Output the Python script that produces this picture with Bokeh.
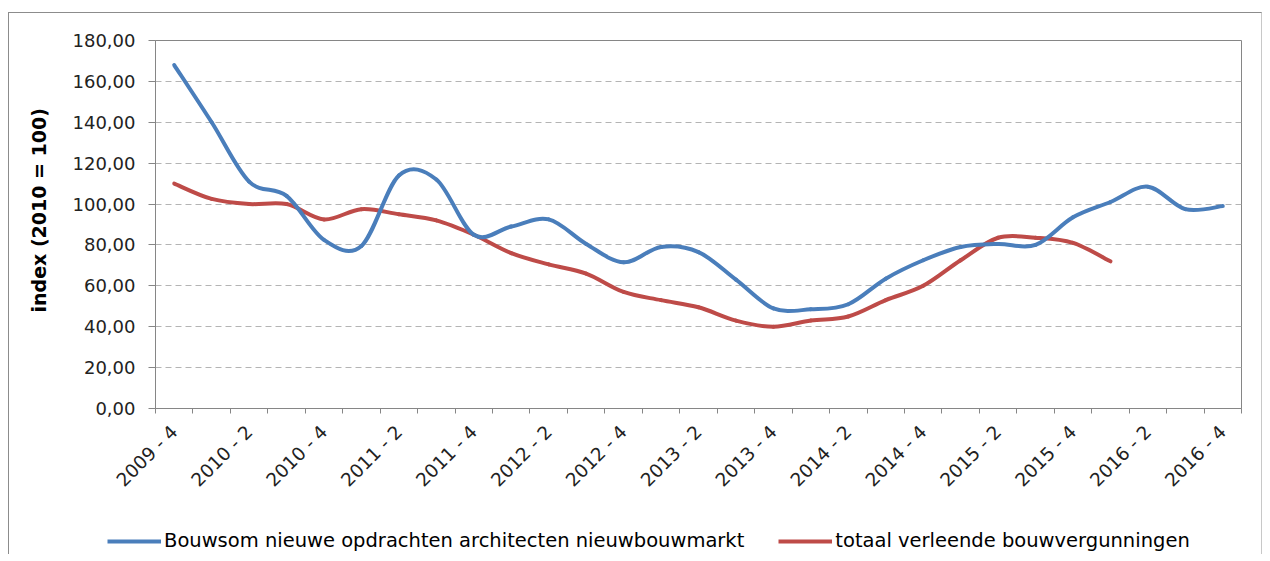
import math
import numpy as np
from bokeh.plotting import figure
from bokeh.layouts import column
from bokeh.models import Range1d, FixedTicker, Legend, LegendItem, Title
from bokeh.embed import file_html
from bokeh.resources import INLINE

# ---------------- data ----------------
quarters = [
    "2009 - 4",
    "2010 - 1", "2010 - 2", "2010 - 3", "2010 - 4",
    "2011 - 1", "2011 - 2", "2011 - 3", "2011 - 4",
    "2012 - 1", "2012 - 2", "2012 - 3", "2012 - 4",
    "2013 - 1", "2013 - 2", "2013 - 3", "2013 - 4",
    "2014 - 1", "2014 - 2", "2014 - 3", "2014 - 4",
    "2015 - 1", "2015 - 2", "2015 - 3", "2015 - 4",
    "2016 - 1", "2016 - 2", "2016 - 3", "2016 - 4",
]
bouwsom = [168, 140, 111, 104, 82.5, 79.5, 114, 112, 85, 89, 92.5, 80.5, 71.5,
           79, 76.5, 63, 49, 48.5, 51, 63.5, 72.5, 79, 80.5, 80, 93.5, 101,
           108.5, 97.5, 99]
vergunningen = [110, 102.5, 100, 100, 92.5, 97.5, 95, 92, 85, 76, 70.5, 66, 57,
                53, 49.5, 43, 40, 43, 45, 53, 60, 72.5, 83.5, 83.5, 81, 72]
series_names = ["Bouwsom nieuwe opdrachten architecten nieuwbouwmarkt",
                "totaal verleende bouwvergunningen"]
y_ticks = [0, 20, 40, 60, 80, 100, 120, 140, 160, 180]
y_tick_labels = ["0,00", "20,00", "40,00", "60,00", "80,00", "100,00",
                 "120,00", "140,00", "160,00", "180,00"]
y_title = "index (2010 = 100)"

# ---------------- style / layout ----------------
FONT = "DejaVu Sans"
BLUE = "#4A7EBB"
RED = "#BE4B48"
GRAY = "#868686"
W = 1252
H_MAIN = 505
BL, BR, BT = 146, 20, 27
FRAME_H = 368
BB = H_MAIN - BT - FRAME_H
H_LEG = 36
n = len(quarters)
idx = np.arange(n)

p = figure(width=W, height=H_MAIN, title=None, output_backend="svg",
           toolbar_location=None,
           x_range=Range1d(-0.5, n - 0.5), y_range=Range1d(y_ticks[0], y_ticks[-1]),
           min_border_left=BL, min_border_right=BR, min_border_top=BT,
           min_border_bottom=BB, background_fill_color="white",
           border_fill_color="white")
p.outline_line_color = GRAY
p.outline_line_width = 1


def smooth(ys):
    """Bezier segments (Excel-style smoothed line) through the data points."""
    y = np.asarray(ys, dtype=float)
    x = np.arange(len(y), dtype=float)
    xp = np.concatenate([[x[0]], x, [x[-1]]])
    yp = np.concatenate([[y[0]], y, [y[-1]]])
    k = 1.0 / 6.0
    return dict(
        x0=xp[1:-2], y0=yp[1:-2], x1=xp[2:-1], y1=yp[2:-1],
        cx0=xp[1:-2] + (xp[2:-1] - xp[0:-3]) * k,
        cy0=yp[1:-2] + (yp[2:-1] - yp[0:-3]) * k,
        cx1=xp[2:-1] - (xp[3:] - xp[1:-2]) * k,
        cy1=yp[2:-1] - (yp[3:] - yp[1:-2]) * k,
    )


p.bezier(**smooth(vergunningen), line_color=RED, line_width=4, line_cap="round")
p.bezier(**smooth(bouwsom), line_color=BLUE, line_width=4, line_cap="round")

# grid
p.xgrid.visible = False
p.ygrid.ticker = FixedTicker(ticks=y_ticks[1:-1])
p.ygrid.grid_line_color = "#b4b4b4"
p.ygrid.grid_line_dash = "6 4"
p.ygrid.grid_line_width = 1

# x axis: labels on every second quarter, tick marks between categories
xa = p.xaxis[0]
xa.ticker = FixedTicker(ticks=list(range(0, n, 2)),
                        minor_ticks=[i - 0.5 for i in range(n + 1)])
xa.major_label_overrides = {i: quarters[i] for i in range(0, n, 2)}
xa.major_tick_in = 0
xa.major_tick_out = 0
xa.minor_tick_in = 0
xa.minor_tick_out = 5
xa.minor_tick_line_color = GRAY
xa.axis_line_color = GRAY
xa.major_label_orientation = math.pi / 4
xa.major_label_standoff = 15
xa.major_label_text_font = FONT
xa.major_label_text_font_size = "18.5px"
xa.major_label_text_color = "#222222"

# y axis
ya = p.yaxis[0]
ya.ticker = FixedTicker(ticks=y_ticks)
ya.major_label_overrides = {v: s for v, s in zip(y_ticks, y_tick_labels)}
ya.major_tick_in = 0
ya.major_tick_out = 7
ya.major_tick_line_color = GRAY
ya.minor_tick_line_color = None
ya.axis_line_color = GRAY
ya.major_label_standoff = 13
ya.major_label_text_font = FONT
ya.major_label_text_font_size = "18px"
ya.major_label_text_color = "#222222"

# y-axis title (left panel)
p.add_layout(Title(text=y_title, align="left", offset=96, standoff=36,
                   vertical_align="top", text_font=FONT, text_font_style="bold",
                   text_font_size="19px", text_color="#000000"), "left")

# ---------------- legend strip ----------------
leg = figure(width=W, height=H_LEG, title=None, output_backend="svg",
             toolbar_location=None, x_range=Range1d(0, 1), y_range=Range1d(0, 1),
             min_border_left=0, min_border_right=0, min_border_top=0,
             min_border_bottom=0, background_fill_color="white",
             border_fill_color="white")
leg.frame_align = False
leg.axis.visible = False
leg.grid.visible = False
leg.outline_line_color = None
# hidden proxies of the two series, only used to draw the legend swatches
proxy_blue = leg.line(x=idx, y=bouwsom, line_color=BLUE, line_width=4, visible=False)
proxy_red = leg.line(x=idx[:len(vergunningen)], y=vergunningen, line_color=RED,
                     line_width=4, visible=False)
legend = Legend(items=[LegendItem(label=series_names[0], renderers=[proxy_blue]),
                       LegendItem(label=series_names[1], renderers=[proxy_red])],
                orientation="horizontal", location=(98, 2),
                glyph_width=54, glyph_height=20, label_standoff=3, spacing=34,
                padding=0, margin=0, border_line_color=None,
                background_fill_alpha=0, label_text_font=FONT,
                label_text_font_size="19.5px", label_text_color="#000000")
leg.add_layout(legend)

page = column(p, leg, spacing=0)
page.margin = (12, 0, 0, 8)
page.styles = {"border-top": "1px solid #8c8c8c", "border-left": "1px solid #8c8c8c",
               "border-right": "1px solid #c8c8c8"}

open("out.html", "w").write(file_html(page, INLINE))
